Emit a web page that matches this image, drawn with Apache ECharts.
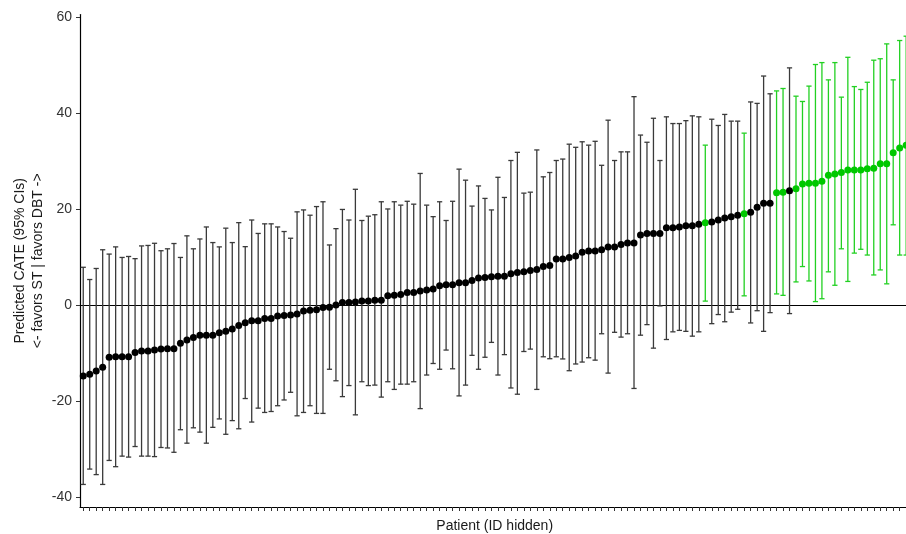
<!DOCTYPE html>
<html><head><meta charset="utf-8">
<script src="https://cdn.jsdelivr.net/npm/echarts@6/dist/echarts.min.js"></script>
<style>html,body{margin:0;padding:0;background:#fff}#c{width:906px;height:534px}</style>
</head><body><div id="c"></div>
<script>
// Predicted CATE per patient (sorted), with 95% CI bounds
const cate = [
-14.8,-14.45,-13.75,-13.0,-10.9,-10.8,-10.8,-10.8,-9.9,-9.6,
-9.6,-9.4,-9.2,-9.1,-9.1,-8.0,-7.3,-6.8,-6.3,-6.3,
-6.3,-5.8,-5.5,-5.0,-4.3,-3.7,-3.3,-3.3,-2.8,-2.8,
-2.3,-2.2,-2.1,-1.9,-1.25,-1.1,-1.0,-0.55,-0.5,0.0,
0.5,0.5,0.6,0.8,0.8,1.0,1.0,1.9,2.0,2.2,
2.6,2.6,2.9,3.1,3.3,4.0,4.2,4.2,4.65,4.65,
5.1,5.6,5.7,5.9,6.0,6.0,6.5,6.75,6.9,7.2,
7.4,8.0,8.2,9.6,9.6,9.9,10.2,11.0,11.25,11.25,
11.5,12.1,12.1,12.6,12.9,12.9,14.6,14.9,14.9,14.9,
16.1,16.1,16.25,16.5,16.5,16.8,17.15,17.3,17.7,18.1,
18.4,18.7,19.0,19.3,20.35,21.2,21.2,23.4,23.5,23.8,
24.2,25.2,25.35,25.35,25.8,27.0,27.3,27.6,28.1,28.1,
28.1,28.4,28.5,29.4,29.4,31.7,32.7,33.3
];
const upper = [
7.85,5.3,7.6,11.5,10.6,12.1,9.9,10.1,9.65,12.3,
12.4,12.85,11.3,11.7,12.8,9.9,14.4,11.7,13.75,16.25,
13.0,12.1,16.0,13.0,17.15,12.15,17.7,14.9,16.9,16.9,
16.25,15.3,13.9,19.4,19.8,18.7,20.5,21.5,12.5,15.9,
19.9,17.7,24.1,17.6,18.5,18.8,21.5,20.0,21.5,20.8,
21.6,21.0,27.4,20.8,18.4,21.5,17.6,21.6,28.3,26.0,
20.6,24.8,22.2,19.8,26.6,22.4,30.1,31.8,23.3,23.5,
32.3,26.7,27.6,30.1,30.4,33.5,32.85,34.0,33.3,34.1,
29.1,38.5,30.1,31.9,31.9,43.4,35.4,33.9,38.9,30.1,
39.2,37.8,37.8,38.4,39.4,39.2,33.3,38.7,37.4,39.7,
38.3,38.3,35.8,42.3,42.0,47.7,44.0,44.6,45.1,49.4,
43.5,42.4,45.6,50.1,50.5,46.9,50.5,43.3,51.6,45.5,
44.9,46.4,51.0,51.3,54.4,46.9,55.1,56.0
];
const lower = [
-37.4,-34.2,-35.35,-37.4,-32.4,-33.7,-31.5,-31.7,-29.5,-31.5,
-31.5,-31.6,-29.7,-29.8,-30.7,-26.0,-28.8,-25.6,-26.5,-28.8,
-25.5,-23.75,-26.95,-24.1,-25.8,-19.5,-24.4,-21.5,-22.4,-22.2,
-21.0,-19.8,-18.2,-23.1,-22.4,-21.0,-22.6,-22.6,-13.4,-15.8,
-19.1,-16.8,-22.9,-16.0,-16.8,-16.7,-19.2,-16.0,-17.6,-16.5,
-16.5,-16.0,-21.6,-14.6,-12.2,-13.4,-9.4,-13.3,-18.95,-16.7,
-10.5,-13.4,-10.9,-7.8,-14.6,-10.35,-17.3,-18.6,-9.7,-9.2,
-17.6,-10.8,-11.2,-10.8,-11.25,-13.7,-12.3,-11.9,-11.0,-11.5,
-6.0,-14.2,-5.7,-6.7,-6.0,-17.4,-6.3,-4.1,-9.0,-0.2,
-7.2,-5.6,-5.3,-5.5,-6.5,-5.6,0.8,-3.9,-2.0,-3.5,
-1.5,-0.9,1.9,-3.75,-1.2,-5.5,-1.6,2.3,2.0,-1.8,
4.8,8.0,5.0,0.7,1.3,6.9,4.1,11.7,4.9,10.8,
11.6,10.4,6.25,7.3,4.4,16.7,10.4,10.4
];
const yTicks = [-40, -20, 0, 20, 40, 60];
const patients = cate.map((_, i) => 'P' + (i + 1));

const GREEN_BAR = '#22d022';
const GREEN_DOT = '#00c800';
const BLACK_BAR = '#3a3a3a';
const FONT = 'Liberation Sans, Arial, sans-serif';

const chart = echarts.init(document.getElementById('c'), null, {renderer: 'canvas'});
chart.setOption({
  animation: false,
  backgroundColor: '#fff',
  grid: {left: 80, top: 14.6, width: 829.4, height: 492.4, containLabel: false, outerBoundsMode: 'none'},
  xAxis: {
    type: 'category', data: patients, boundaryGap: true,
    axisLine: {show: true, onZero: false, lineStyle: {color: '#000', width: 1.2}},
    axisTick: {show: true, alignWithLabel: true, interval: 0, length: 4, lineStyle: {color: '#333', width: 1}},
    axisLabel: {show: false},
    splitLine: {show: false},
    name: 'Patient (ID hidden)', nameLocation: 'middle', nameGap: 12, nameMoveOverlap: false,
    nameTextStyle: {fontSize: 14, color: '#1a1a1a', fontFamily: FONT}
  },
  yAxis: {
    type: 'value', min: -42.1, max: 60.5,
    axisLine: {show: true, lineStyle: {color: '#000', width: 1.2}},
    axisTick: {show: true, customValues: yTicks, length: 4, lineStyle: {color: '#333'}},
    axisLabel: {customValues: yTicks, fontSize: 14, color: '#333', margin: 8, fontFamily: FONT},
    splitLine: {show: false},
    name: 'Predicted CATE (95% CIs)\n<- favors ST | favors DBT ->',
    nameLocation: 'middle', nameGap: 33, nameRotate: 90, nameMoveOverlap: false,
    nameTextStyle: {fontSize: 14, color: '#1a1a1a', lineHeight: 18, fontFamily: FONT, align: 'center'}
  },
  series: [
    {
      type: 'custom', z: 2, clip: false,
      data: cate.map((_, i) => [i, lower[i], upper[i]]),
      encode: {x: 0, y: [1, 2]},
      renderItem: function (params, api) {
        const x = api.value(0), lo = api.value(1), hi = api.value(2);
        const a = api.coord([x, lo]), b = api.coord([x, hi]);
        const col = lo > 0 ? GREEN_BAR : BLACK_BAR;
        const hw = 2.6;
        const st = {stroke: col, lineWidth: 1.3};
        return {type: 'group', children: [
          {type: 'line', shape: {x1: a[0], y1: a[1], x2: b[0], y2: b[1]}, style: st},
          {type: 'line', shape: {x1: a[0] - hw, y1: a[1], x2: a[0] + hw, y2: a[1]}, style: st},
          {type: 'line', shape: {x1: b[0] - hw, y1: b[1], x2: b[0] + hw, y2: b[1]}, style: st}
        ]};
      }
    },
    {
      type: 'scatter', z: 3, symbol: 'circle', symbolSize: 7,
      data: cate.map((v, i) => ({value: [i, v], itemStyle: {color: lower[i] > 0 ? GREEN_DOT : '#000', opacity: 1}})),
      markLine: {
        silent: true, symbol: ['none', 'none'], label: {show: false}, z: 1,
        lineStyle: {color: '#000', width: 1.1, type: 'solid', opacity: 1},
        data: [{yAxis: 0}]
      }
    }
  ]
});
</script>
</body></html>
